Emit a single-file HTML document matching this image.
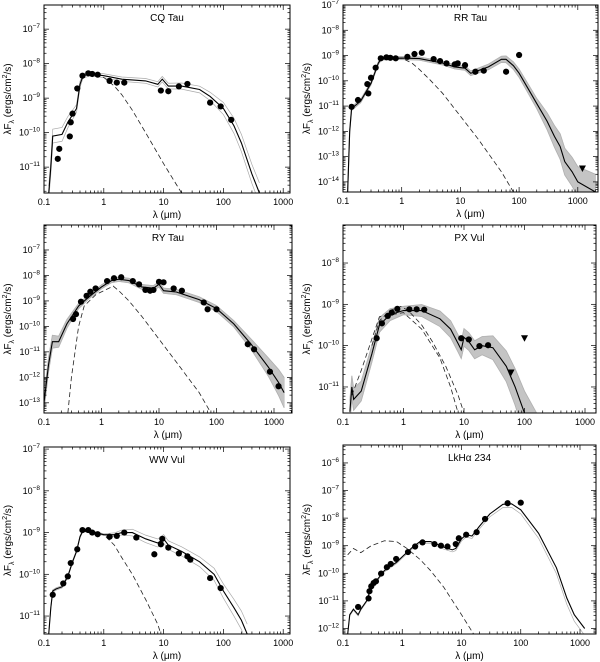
<!DOCTYPE html>
<html><head><meta charset="utf-8">
<style>
html,body{margin:0;padding:0;background:#fff;}
svg{display:block;font-family:"Liberation Sans",sans-serif;}
</style></head>
<body>
<svg id="chart" width="600" height="662" viewBox="0 0 600 662" xmlns="http://www.w3.org/2000/svg"></svg>
<script>
// ===== DATA (wavelength in micron, flux as log10 of lambda*F_lambda) =====
const cqPtsLam = [0.17,0.18,0.27,0.28,0.30,0.36,0.44,0.55,0.64,0.79,1.25,1.65,2.2,9,12,18,25,60,90,135];
const cqPtsLog = [-10.76,-10.47,-10.11,-9.7,-9.45,-8.72,-8.35,-8.28,-8.30,-8.32,-8.50,-8.55,-8.55,-8.78,-8.80,-8.66,-8.59,-9.13,-9.24,-9.63];
const cqModelLam = [0.12,0.13,0.14,0.2,0.25,0.35,0.4,0.45,0.6,1,2,5,8,9.5,12,20,40,60,100,150,200,300,400];
const cqModelLog = [-11.75,-11,-10.1,-10.05,-9.7,-9.3,-8.6,-8.35,-8.3,-8.35,-8.45,-8.5,-8.6,-8.45,-8.65,-8.65,-8.75,-8.95,-9.3,-9.8,-10.3,-11.2,-11.75];
const cqStarLam = [0.4,0.6,1,1.5,2,3,5,10,20];
const cqStarLog = [-8.4,-8.3,-8.4,-8.65,-8.9,-9.35,-10,-10.9,-11.75];
const cqSpreadLam = [0.1,0.2,0.5,5,50,200,1000];
const cqSpreadDex = [0.2,0.2,0.05,0.07,0.1,0.25,0.35];

const rrPtsLam = [0.14,0.18,0.27,0.26,0.30,0.36,0.44,0.55,0.64,0.79,1.25,1.65,2.2,3.5,4.5,5.8,8,9,12,18,25,60,100];
const rrPtsLog = [-11.03,-10.76,-10.5,-10.13,-9.88,-9.48,-9.11,-9.07,-9.09,-9.11,-9.05,-8.94,-8.89,-9.14,-9.22,-9.31,-9.35,-9.31,-9.38,-9.64,-9.6,-9.64,-8.98];
const rrLimLam = [1200];
const rrLimLog = [-13.47];
const rrModelLam = [0.12,0.13,0.14,0.2,0.3,0.4,0.45,1,2,5,8,12,15,20,30,50,60,80,100,150,200,300,400,500,600,800,1000,2000];
const rrModelLog = [-14.4,-12,-11.1,-10.8,-10.1,-9.3,-9.12,-9.1,-9.12,-9.3,-9.45,-9.5,-9.7,-9.6,-9.45,-9.15,-9.15,-9.4,-9.7,-10.4,-10.9,-11.6,-12.2,-12.6,-13.2,-13.6,-14,-14.4];
const rrStarLam = [0.45,1,1.5,2,3,5,10,20,50,80];
const rrStarLog = [-9.15,-9.1,-9.3,-9.55,-9.95,-10.5,-11.4,-12.3,-13.6,-14.4];
const rrSpreadLam = [0.1,0.5,10,50,200,500,2000];
const rrSpreadDex = [0.08,0.05,0.08,0.12,0.2,0.5,0.7];

const ryPtsLam = [0.32,0.36,0.44,0.55,0.64,0.79,1.25,1.65,2.2,3.5,4.5,5.8,7,8,10,12,18,25,60,70,100,350,450,850,1200];
const ryPtsLog = [-9.71,-9.52,-9.03,-8.8,-8.64,-8.51,-8.22,-8.11,-8.07,-8.22,-8.35,-8.57,-8.6,-8.57,-8.25,-8.27,-8.51,-8.6,-9.06,-9.33,-9.33,-10.7,-10.9,-11.78,-12.35];
const ryModelLam = [0.1,0.12,0.14,0.18,0.25,0.4,0.6,1,1.5,2,3,5,8,10,12,20,50,100,200,400,800,1200,1500];
const ryModelLog = [-13,-11.5,-10.6,-10.6,-9.9,-9.2,-8.85,-8.45,-8.2,-8.15,-8.2,-8.45,-8.5,-8.35,-8.6,-8.65,-8.95,-9.3,-9.9,-10.7,-11.6,-12.2,-12.6];
const ryStarLam = [0.26,0.3,0.4,0.5,0.8,1.6,2,3,5,10,20,50,80];
const ryStarLog = [-13.4,-12,-10,-9.2,-8.75,-8.42,-8.6,-9.0,-9.6,-10.5,-11.4,-12.6,-13.4];
const rySpreadLam = [0.1,0.2,0.5,10,200,600,2000];
const rySpreadDex = [0.3,0.2,0.07,0.1,0.12,0.25,0.7];

const pxPtsLam = [0.36,0.44,0.55,0.64,0.79,1.25,1.65,2.2,9,12,18,25];
const pxPtsLog = [-9.82,-9.46,-9.28,-9.2,-9.11,-9.12,-9.12,-9.13,-9.82,-9.85,-10.01,-9.99];
const pxLimLam = [60,100];
const pxLimLog = [-10.65,-9.82];
const pxModelLam = [0.13,0.14,0.15,0.2,0.3,0.4,0.6,1,2,4,6,8,9,10,12,15,20,30,50,70,100,200];
const pxModelLog = [-11.6,-11.0,-11.3,-11.1,-10.2,-9.5,-9.25,-9.15,-9.15,-9.35,-9.6,-9.95,-10.1,-9.8,-9.9,-10.1,-10.0,-10.05,-10.5,-11.0,-11.63,-12.6];
const pxStarLam = [0.3,0.4,0.6,0.9,1.2,2,3,5,8,10];
const pxStarLog = [-10,-9.4,-9.15,-9.05,-9.15,-9.5,-9.9,-10.5,-11.2,-11.63];
const pxStar2Lam = [0.14,0.2,0.4,1,2,4,6,8];
const pxStar2Log = [-11.2,-10.6,-9.3,-9.2,-9.6,-10.3,-11,-11.63];
const pxSpreadLam = [0.1,0.3,1,5,20,60,200];
const pxSpreadDex = [0.3,0.2,0.1,0.2,0.22,0.4,0.7];

const wwPtsLam = [0.14,0.21,0.25,0.28,0.36,0.44,0.55,0.64,0.79,1.25,1.65,2.2,3.5,7,9,9.5,12,18,25,28,60,90];
const wwPtsLog = [-10.49,-10.22,-10.05,-9.73,-9.40,-8.94,-8.94,-9.0,-9.04,-9.1,-9.08,-9.0,-9.12,-9.52,-9.28,-9.15,-9.36,-9.5,-9.57,-9.65,-10.09,-10.33];
const wwModelLam = [0.12,0.13,0.14,0.16,0.2,0.25,0.3,0.35,0.4,0.45,0.6,1,1.5,2,3,5,8,10,12,20,40,70,100,150,200,250];
const wwModelLog = [-11.43,-10.8,-10.4,-10.35,-10.3,-10.05,-9.7,-9.45,-9.1,-8.95,-8.97,-9.05,-9.05,-9.0,-9.0,-9.15,-9.25,-9.15,-9.3,-9.45,-9.7,-10.0,-10.4,-10.8,-11.1,-11.43];
const wwStarLam = [0.45,1,1.5,2,3,5,8,9];
const wwStarLog = [-8.97,-9.05,-9.3,-9.6,-10.0,-10.6,-11.2,-11.43];
const wwSpreadLam = [0.1,1,3,10,50,150,300];
const wwSpreadDex = [0.03,0.02,0.08,0.1,0.12,0.2,0.25];

const lkPtsLam = [0.18,0.27,0.28,0.30,0.33,0.36,0.44,0.55,0.64,0.79,1.25,1.65,2.2,3.5,4.5,5.8,8,9,12,18,25,60,100];
const lkPtsLog = [-11.22,-10.91,-10.65,-10.47,-10.35,-10.29,-10.01,-9.78,-9.66,-9.48,-9.23,-9.03,-8.88,-8.94,-9.0,-9.03,-8.94,-8.73,-8.6,-8.51,-8.03,-7.46,-7.44];
const lkModelLam = [0.12,0.13,0.15,0.18,0.2,0.25,0.3,0.5,0.8,1,1.5,2,3,5,7,8,10,12,15,20,30,50,70,100,200,400,600,800,1200];
const lkModelLog = [-12.2,-11.5,-11.3,-11.5,-11.3,-11.0,-10.5,-9.9,-9.6,-9.4,-9.05,-8.85,-8.85,-9.05,-9.15,-9.1,-8.75,-8.6,-8.65,-8.3,-7.85,-7.5,-7.48,-7.7,-8.55,-9.8,-10.9,-11.5,-12.0];
const lkStarLam = [0.12,0.15,0.2,0.3,0.5,0.8,1.2,2,3,5,10,16];
const lkStarLog = [-9.33,-9.1,-9.25,-9.0,-8.82,-8.85,-9.1,-9.5,-9.9,-10.5,-11.5,-12.2];
const lkSpreadLam = [0.1,1,10,60,300,1200];
const lkSpreadDex = [0.04,0.05,0.08,0.12,0.2,0.25];

// ===== LAYOUT =====
const panels = [
 {key:'cq',title:'CQ Tau',x0:44,x1:290,y0:5,y1:193,lx0:-1,pxd:59.8,ly0:-6.30,ly1:-11.75,
  pL:cqPtsLam,pV:cqPtsLog,mL:cqModelLam,mV:cqModelLog,sL:[cqStarLam],sV:[cqStarLog],spL:cqSpreadLam,spV:cqSpreadDex,band:false,both:true},
 {key:'rr',title:'RR Tau',x0:343,x1:598,y0:5,y1:192,lx0:-1,pxd:58.7,ly0:-7,ly1:-14.4,
  pL:rrPtsLam,pV:rrPtsLog,tL:rrLimLam,tV:rrLimLog,mL:rrModelLam,mV:rrModelLog,sL:[rrStarLam],sV:[rrStarLog],spL:rrSpreadLam,spV:rrSpreadDex,band:true,both:true},
 {key:'ry',title:'RY Tau',x0:44,x1:292,y0:225,y1:413,lx0:-1,pxd:57.5,ly0:-6.02,ly1:-13.4,
  pL:ryPtsLam,pV:ryPtsLog,mL:ryModelLam,mV:ryModelLog,sL:[ryStarLam],sV:[ryStarLog],spL:rySpreadLam,spV:rySpreadDex,band:true,both:true},
 {key:'px',title:'PX Vul',x0:343,x1:596,y0:225,y1:413,lx0:-1,pxd:60.5,ly0:-7.08,ly1:-11.63,
  pL:pxPtsLam,pV:pxPtsLog,tL:pxLimLam,tV:pxLimLog,mL:pxModelLam,mV:pxModelLog,sL:[pxStarLam,pxStar2Lam],sV:[pxStarLog,pxStar2Log],spL:pxSpreadLam,spV:pxSpreadDex,band:true,both:true},
 {key:'ww',title:'WW Vul',x0:44,x1:290,y0:447,y1:634,lx0:-1,pxd:59.8,ly0:-6.95,ly1:-11.43,
  pL:wwPtsLam,pV:wwPtsLog,mL:wwModelLam,mV:wwModelLog,sL:[wwStarLam],sV:[wwStarLog],spL:wwSpreadLam,spV:wwSpreadDex,band:false,both:true},
 {key:'lk',title:'LkHα 234',x0:343,x1:596,y0:445,y1:634,lx0:-1,pxd:59.25,ly0:-5.35,ly1:-12.2,
  pL:lkPtsLam,pV:lkPtsLog,mL:lkModelLam,mV:lkModelLog,sL:[lkStarLam],sV:[lkStarLog],spL:lkSpreadLam,spV:lkSpreadDex,band:false,both:false}
];

const NS='http://www.w3.org/2000/svg';
const svg=document.getElementById('chart');
function mk(tag,attrs,parent){const e=document.createElementNS(NS,tag);for(const k in attrs)e.setAttribute(k,attrs[k]);(parent||svg).appendChild(e);return e;}
function interp(xs,ys,x){if(x<=xs[0])return ys[0];for(let i=1;i<xs.length;i++){if(x<=xs[i]){const t=(x-xs[i-1])/(xs[i]-xs[i-1]);return ys[i-1]+t*(ys[i]-ys[i-1]);}}return ys[ys.length-1];}

panels.forEach((p,pi)=>{
  const X=l=>p.x0+(Math.log10(l)-p.lx0)*p.pxd;
  const Y=v=>p.y0+(p.ly0-v)/(p.ly0-p.ly1)*(p.y1-p.y0);
  const g=mk('g',{});
  
  
  const cid='clip'+pi;
  const cp=mk('clipPath',{id:cid},g);
  mk('rect',{x:p.x0,y:p.y0,width:p.x1-p.x0,height:p.y1-p.y0},cp);
  const plot=mk('g',{'clip-path':'url(#'+cid+')'},g);
  const lg=p.mL.map(l=>Math.log10(l));
  const spl=p.spL.map(Math.log10);
  const up=p.mL.map((l,i)=>[X(l),Y(p.mV[i]+interp(spl,p.spV,lg[i]))]);
  const lo=p.mL.map((l,i)=>[X(l),Y(p.mV[i]-interp(spl,p.spV,lg[i]))]);
  if(p.band){
    const poly=mk('polygon',{points:up.concat(lo.slice().reverse()).map(q=>q.join(',')).join(' '),fill:'#c4c4c4',stroke:'#c4c4c4','stroke-width':1},plot);
    
    
  }
  const envs=p.both?[up,lo]:[lo];
  envs.forEach((arr,k)=>{
    const pl=mk('polyline',{points:arr.map(q=>q.join(',')).join(' '),fill:'none',stroke:p.band?'#b0b0b0':'#aaaaaa','stroke-width':0.7},plot);
    
    
  });
  p.sL.forEach((sl,k)=>{
    const pl=mk('polyline',{points:sl.map((l,i)=>X(l)+','+Y(p.sV[k][i])).join(' '),fill:'none',stroke:'#222','stroke-width':0.8,'stroke-dasharray':'5,3'},plot);
    
    
  });
  const mp=mk('polyline',{points:p.mL.map((l,i)=>X(l)+','+Y(p.mV[i])).join(' '),fill:'none',stroke:'#000','stroke-width':1.1},plot);
  
  
  p.pL.forEach((l,i)=>{
    const c=mk('circle',{cx:X(l),cy:Y(p.pV[i]),r:3.1,fill:'#000'},plot);
    
    
  });
  if(p.tL) p.tL.forEach((l,i)=>{
    const x=X(l),y=Y(p.tV[i]);
    const t=mk('polygon',{points:(x-3.5)+','+(y-3)+' '+(x+3.5)+','+(y-3)+' '+x+','+(y+3.5),fill:'#000'},plot);
    
    
  });
  const fr=mk('rect',{x:p.x0,y:p.y0,width:p.x1-p.x0,height:p.y1-p.y0,fill:'none',stroke:'#000','stroke-width':1},g);
  
  
  const xmaxLog=p.lx0+(p.x1-p.x0)/p.pxd;
  for(let d=-1;d<=4;d++){for(let m=1;m<10;m++){const lv=d+Math.log10(m);if(lv<p.lx0-1e-6||lv>xmaxLog)continue;const x=p.x0+(lv-p.lx0)*p.pxd;const len=m===1?5:2.5;
    mk('line',{x1:x,y1:p.y1,x2:x,y2:p.y1-len,stroke:'#000','stroke-width':0.7},g);
    mk('line',{x1:x,y1:p.y0,x2:x,y2:p.y0+len,stroke:'#000','stroke-width':0.7},g);
    if(m===1){const t=mk('text',{x:x,y:p.y1+12,'font-size':9,'text-anchor':'middle'},g);t.textContent=['0.1','1','10','100','1000','10000'][d+1];
      }}}
  for(let d=-15;d<=-4;d++){for(let m=1;m<10;m++){const lv=d+Math.log10(m);if(lv>p.ly0||lv<p.ly1)continue;const y=Y(lv);const len=m===1?5:2.5;
    mk('line',{x1:p.x0,y1:y,x2:p.x0+len,y2:y,stroke:'#000','stroke-width':0.7},g);
    mk('line',{x1:p.x1,y1:y,x2:p.x1-len,y2:y,stroke:'#000','stroke-width':0.7},g);
    if(m===1){const t=mk('text',{x:p.x0-4,y:y+3,'font-size':9,'text-anchor':'end'},g);
      
      const a=mk('tspan',{},t);a.textContent='10';const b=mk('tspan',{'font-size':6.5,dy:-4},t);b.textContent='−'+(-d);}}}
  const tt=mk('text',{x:(p.x0+p.x1)/2,y:p.y0+16,'font-size':10,'text-anchor':'middle'},g);
  tt.textContent=p.title;
  
  const xl=mk('text',{x:(p.x0+p.x1)/2,y:p.y1+25,'font-size':10,'text-anchor':'middle'},g);
  xl.textContent='λ (μm)';
  
  const cy=(p.y0+p.y1)/2, cx=p.x0-33;
  const yl=mk('text',{x:cx,y:cy,'font-size':10,'text-anchor':'middle',transform:'rotate(-90 '+cx+' '+cy+')'},g);
  
  const s1=mk('tspan',{},yl);s1.textContent='λF';
  const s2=mk('tspan',{'font-size':7,dy:3},yl);s2.textContent='λ';
  const s3=mk('tspan',{dy:-3},yl);s3.textContent=' (ergs/cm';
  const s4=mk('tspan',{'font-size':7,dy:-4},yl);s4.textContent='2';
  const s5=mk('tspan',{dy:4},yl);s5.textContent='/s)';
});
</script>
</body></html>
